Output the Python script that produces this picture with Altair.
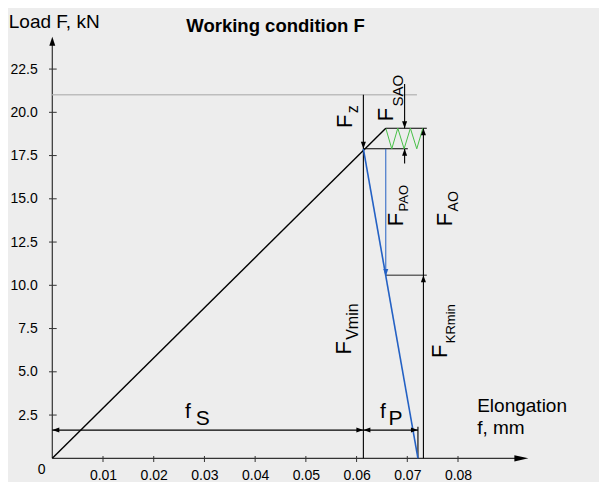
import altair as alt
import pandas as pd

# ---------------- data ----------------
X_TICKS = [0.01, 0.02, 0.03, 0.04, 0.05, 0.06, 0.07, 0.08]
Y_TICKS = [2.5, 5.0, 7.5, 10.0, 12.5, 15.0, 17.5, 20.0, 22.5]

# loading line of the bolt (elongation f, load F)
LOAD_F = [0.0, 0.06576]
LOAD_KN = [0.0, 19.08]
# line of the clamped parts
WORK_F = [0.06134, 0.0721]
WORK_KN = [17.89, 0.0]
# spring zig-zag (working load)
ZIG_F = [0.06576, 0.06694, 0.06813, 0.06937, 0.07061, 0.07187, 0.07306]
ZIG_KN = [19.08, 17.89, 19.08, 17.89, 19.08, 17.89, 19.08]

# black construction / dimension lines
BLK_X1 = [0.06134, 0.07318, 0.06576, 0.06134, 0.06947, 0.06947, 0.0, 0.0721]
BLK_Y1 = [21.02, 19.08, 19.08, 17.89, 21.64, 17.89, 1.63, 1.82]
BLK_X2 = [0.06134, 0.07318, 0.07385, 0.0701, 0.06947, 0.06947, 0.0721, 0.0721]
BLK_Y2 = [0.0, 0.0, 19.08, 17.89, 19.08, 17.04, 1.63, 0.0]

# light grey reference line (F_Vmin + F_z level)
REF_F = [0.0, 0.0719]
REF_KN = [21.02, 21.02]
# F_PAO (blue) and F_KRmin level (grey)
PAO_F = [0.06576, 0.06576]
PAO_KN = [17.89, 10.54]
KR_F = [0.06576, 0.07385]
KR_KN = [10.58, 10.58]

# arrow tips
ARROW_F = [0.06134, 0.06947, 0.06947, 0.07318, 0.06576, 0.07318, 0.0, 0.06134, 0.06134, 0.0721]
ARROW_KN = [17.89, 19.08, 17.89, 19.08, 10.54, 10.58, 1.63, 1.63, 1.63, 1.63]
ARROW_DIR = ["down", "down", "up", "up", "down", "up", "left", "right", "left", "right"]

# labels: (base, subscript)
LABEL_BASE = ["F", "F", "F", "F", "F", "F"]
LABEL_SUB = ["z", "SAO", "PAO", "AO", "Vmin", "KRmin"]
DIM_BASE = ["f", "f"]
DIM_SUB = ["S", "P"]

X_MAX = 0.0939
Y_MAX = 24.4
X_AXIS_TIP = 0.09387
Y_AXIS_TIP = 24.37

FONT = "Liberation Sans"

# ---------------- shared encodings ----------------
x_scale = alt.Scale(domain=[0, X_MAX], nice=False, zero=False)
y_scale = alt.Scale(domain=[0, Y_MAX], nice=False, zero=False)
x_axis = alt.Axis(values=X_TICKS, format=".2f", domain=False, ticks=False, grid=False,
                  labelFontSize=14, labelPadding=10, labelColor="black", labelFont=FONT,
                  title=["Elongation", "f, mm"], titleX=424.4, titleY=-46.6, titleAngle=0,
                  titleAlign="left", titleBaseline="alphabetic", titleFontSize=19,
                  titleFontWeight="normal", titleColor="black", titleFont=FONT,
                  titleLineHeight=21.6)
y_axis = alt.Axis(values=Y_TICKS, format=".1f", domain=False, ticks=False, grid=False,
                  labelFontSize=14, labelPadding=15, labelColor="black", labelFont=FONT,
                  title="Load F, kN", titleX=-44, titleY=-8.9, titleAngle=0,
                  titleAlign="left", titleBaseline="alphabetic", titleFontSize=19,
                  titleFontWeight="normal", titleColor="black", titleFont=FONT)


def X(field=None, datum=None):
    if datum is not None:
        return alt.X(datum=datum, type="quantitative", scale=x_scale, axis=x_axis)
    return alt.X(field, type="quantitative", scale=x_scale, axis=x_axis)


def Y(field=None, datum=None):
    if datum is not None:
        return alt.Y(datum=datum, type="quantitative", scale=y_scale, axis=y_axis)
    return alt.Y(field, type="quantitative", scale=y_scale, axis=y_axis)


# ---------------- tables ----------------
load_df = pd.DataFrame({"f": LOAD_F, "F": LOAD_KN, "o": range(len(LOAD_F))})
work_df = pd.DataFrame({"f": WORK_F, "F": WORK_KN, "o": range(len(WORK_F))})
zig_df = pd.DataFrame({"f": ZIG_F, "F": ZIG_KN, "o": range(len(ZIG_F))})
blk_df = pd.DataFrame({"x1": BLK_X1, "y1": BLK_Y1, "x2": BLK_X2, "y2": BLK_Y2})
ref_df = pd.DataFrame({"x1": [REF_F[0]], "x2": [REF_F[1]], "y1": [REF_KN[0]], "y2": [REF_KN[1]]})
pao_df = pd.DataFrame({"x1": [PAO_F[0]], "x2": [PAO_F[1]], "y1": [PAO_KN[0]], "y2": [PAO_KN[1]]})
kr_df = pd.DataFrame({"x1": [KR_F[0]], "x2": [KR_F[1]], "y1": [KR_KN[0]], "y2": [KR_KN[1]]})
xt_df = pd.DataFrame({"f": X_TICKS})
yt_df = pd.DataFrame({"F": Y_TICKS})

BLUE = "#2461c4"
GREEN = "#48c048"

# arrow head shapes: tip at the data point
HW = 0.36
PATHS = {
    "up": f"M0,0L-{HW},1L{HW},1Z",
    "down": f"M0,0L-{HW},-1L{HW},-1Z",
    "left": f"M0,0L1,-{HW}L1,{HW}Z",
    "right": f"M0,0L-1,-{HW}L-1,{HW}Z",
}
arr_df = pd.DataFrame({"f": ARROW_F, "F": ARROW_KN, "dir": ARROW_DIR})
arr_df["path"] = arr_df["dir"].map(PATHS)
arr_df["col"] = ["black", "black", "black", "black", BLUE, "black", "black", "black", "black", "black"]

axis_arrow_df = pd.DataFrame({
    "f": [0.0, X_AXIS_TIP],
    "F": [Y_AXIS_TIP, 0.0],
    "path": ["M0,0L-0.33,1L0.33,1Z", "M0,0L-1,-0.22L-1,0.22Z"],
    "sz": [324, 784],
})

# label placement (annotation anchors, in data units)
rot_df = pd.DataFrame({
    "t": LABEL_BASE + LABEL_SUB,
    "f": [0.05904, 0.06725, 0.06922, 0.07876, 0.05884, 0.07778,
          0.06034, 0.06922, 0.0702, 0.08006, 0.06034, 0.07941],
    "F": [19.10, 19.48, 13.42, 13.42, 6.00, 5.80,
          19.94, 20.34, 14.27, 14.27, 6.85, 6.65],
    "s": [22, 22, 22, 22, 22, 22, 16, 15, 13, 14, 16, 13],
})
dim_df = pd.DataFrame({
    "t": DIM_BASE + DIM_SUB,
    "f": [0.02617, 0.06462, 0.02828, 0.06628],
    "F": [2.33, 2.31, 1.925, 1.925],
    "s": [21, 21, 21, 21],
})
zero_df = pd.DataFrame({"t": ["0"], "f": [-0.00209], "F": [-0.936]})

# ---------------- layers ----------------
layers = []

# axis lines
layers.append(alt.Chart(pd.DataFrame({"a": [0]})).mark_rule(color="#333333", strokeWidth=1.2).encode(
    x=X(datum=0), y=Y(datum=0), y2=alt.Y2(datum=Y_AXIS_TIP - 0.3)))
layers.append(alt.Chart(pd.DataFrame({"a": [0]})).mark_rule(color="#333333", strokeWidth=1.2).encode(
    x=X(datum=0), x2=alt.X2(datum=X_AXIS_TIP - 0.001), y=Y(datum=0)))
# ticks crossing the axes
layers.append(alt.Chart(xt_df).mark_rule(color="#333333", strokeWidth=1, yOffset=-2.3, y2Offset=3.7).encode(
    x=X("f"), y=Y(datum=0), y2=alt.Y2(datum=0)))
layers.append(alt.Chart(yt_df).mark_rule(color="#333333", strokeWidth=1, xOffset=-3.3, x2Offset=4.4).encode(
    y=Y("F"), x=X(datum=0), x2=alt.X2(datum=0)))

# reference line
layers.append(alt.Chart(ref_df).mark_rule(color="#bdbdbd", strokeWidth=1.5).encode(
    x=X("x1"), x2="x2", y=Y("y1"), y2="y2"))
# F_KRmin level line
layers.append(alt.Chart(kr_df).mark_rule(color="#666666", strokeWidth=1.5).encode(
    x=X("x1"), x2="x2", y=Y("y1"), y2="y2"))
# black construction lines
layers.append(alt.Chart(blk_df).mark_rule(color="black", strokeWidth=1.1).encode(
    x=X("x1"), x2="x2", y=Y("y1"), y2="y2"))
# F_PAO thin blue
layers.append(alt.Chart(pao_df).mark_rule(color=BLUE, strokeWidth=1).encode(
    x=X("x1"), x2="x2", y=Y("y1"), y2="y2"))
# spring
layers.append(alt.Chart(zig_df).mark_line(color=GREEN, strokeWidth=1).encode(
    x=X("f"), y=Y("F"), order="o"))
# loading line
layers.append(alt.Chart(load_df).mark_line(color="black", strokeWidth=1.4).encode(
    x=X("f"), y=Y("F"), order="o"))
# clamped parts line
layers.append(alt.Chart(work_df).mark_line(color=BLUE, strokeWidth=1.6).encode(
    x=X("f"), y=Y("F"), order="o"))

# arrow heads
layers.append(alt.Chart(arr_df).mark_point(filled=True, opacity=1, strokeWidth=0, size=196).encode(
    x=X("f"), y=Y("F"), shape=alt.Shape("path:N", scale=None), color=alt.Color("col:N", scale=None)))
layers.append(alt.Chart(axis_arrow_df).mark_point(filled=True, opacity=1, strokeWidth=0, color="black").encode(
    x=X("f"), y=Y("F"), shape=alt.Shape("path:N", scale=None), size=alt.Size("sz:Q", scale=None)))

# labels
layers.append(alt.Chart(rot_df).mark_text(angle=270, align="left", baseline="alphabetic", font=FONT,
                                          color="black").encode(
    x=X("f"), y=Y("F"), text="t:N", size=alt.Size("s:Q", scale=None)))
layers.append(alt.Chart(dim_df).mark_text(align="left", baseline="alphabetic", font=FONT,
                                          color="black").encode(
    x=X("f"), y=Y("F"), text="t:N", size=alt.Size("s:Q", scale=None)))
layers.append(alt.Chart(zero_df).mark_text(align="center", baseline="alphabetic", font=FONT,
                                           color="black", fontSize=14).encode(
    x=X("f"), y=Y("F"), text="t:N"))

chart = alt.layer(*layers).properties(
    width=476.2,
    height=422.1,
    title=alt.TitleParams("Working condition F", anchor="start", frame="group", dx=134,
                          offset=-38, fontSize=18.5, fontWeight="bold", color="black",
                          font=FONT, baseline="alphabetic"),
    autosize=alt.AutoSizeParams(type="none"),
    padding={"left": 44.3, "top": 28.2, "right": 70.5, "bottom": 23.7},
).configure(background="#ededed").configure_view(stroke=None)

chart.save("out.html", embed_options={"renderer": "svg", "actions": False})
